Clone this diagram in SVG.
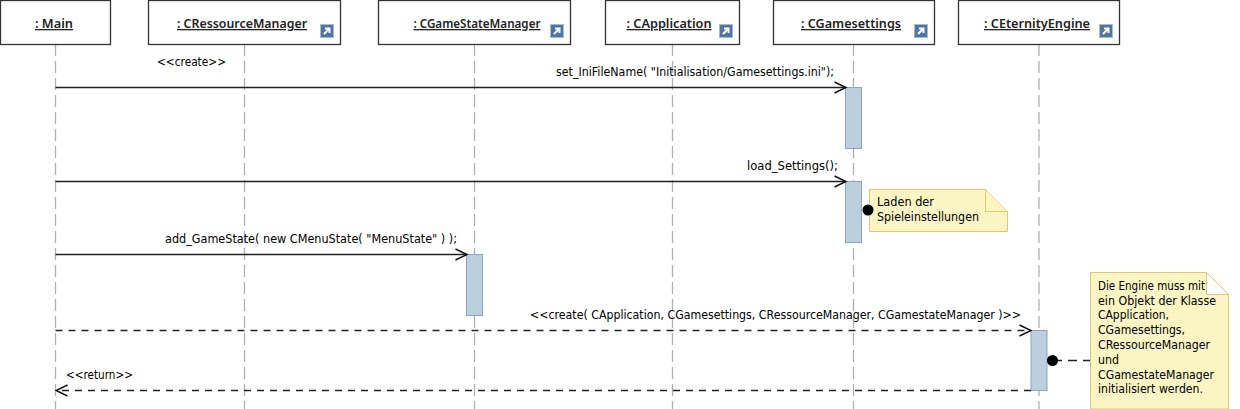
<svg xmlns="http://www.w3.org/2000/svg" width="1240" height="409" viewBox="0 0 1240 409">
<style>
text{font-family:"DejaVu Sans","Noto Sans",sans-serif;font-size:11.500px;fill:#000}
.obj{font-family:"Noto Sans",sans-serif;font-size:13px;font-weight:600;text-anchor:middle;text-decoration:underline;fill:#222}
.box{fill:#fff;stroke:#333;stroke-width:1.3}
.life{stroke:#b0b0b0;stroke-width:1.3;stroke-dasharray:12 5;fill:none}
.act{fill:#bccfdd;stroke:#8aa7c0;stroke-width:1}
.msg{stroke:#222;stroke-width:1.300;fill:none}
.dash{stroke-dasharray:7 6}
.note{fill:#fbf5c4;stroke:#dccb6e;stroke-width:1}
.ic{fill:#4d76a4;stroke:#a9bccf;stroke-width:1}
.ia{fill:none;stroke:#fff;stroke-width:2}
</style>
<defs>
<marker id="o" markerUnits="userSpaceOnUse" markerWidth="14" markerHeight="14" refX="12.5" refY="7" orient="auto"><path d="M1 1.500L12.500 7L1 12.500" fill="none" stroke="#111" stroke-width="1.4"/></marker>
<g id="lnk"><rect class="ic" x="0.500" y="0.500" width="13" height="13"/><path class="ia" d="M4 10L8.500 5.500M5 4.500H9.500V9"/></g>
</defs>
<g id="lifelines">
<path class="life" d="M55.500 44V409"/><path class="life" d="M244.500 44V409"/><path class="life" d="M474.500 44V409"/><path class="life" d="M672.500 44V409"/><path class="life" d="M853.500 44V409"/><path class="life" d="M1039 44V409"/>
</g>
<g id="n-main"><rect class="box" x="0.500" y="0.500" width="110" height="44"/><text class="obj" x="54" y="28" textLength="38" lengthAdjust="spacingAndGlyphs">: Main</text></g>
<g id="n-res"><rect class="box" x="148.500" y="0.500" width="192" height="44"/><text class="obj" x="242" y="28" textLength="130" lengthAdjust="spacingAndGlyphs">: CRessourceManager</text><use href="#lnk" x="320" y="24"/></g>
<g id="n-state"><rect class="box" x="378.500" y="0.500" width="192" height="44"/><text class="obj" x="477" y="28" textLength="127" lengthAdjust="spacingAndGlyphs">: CGameStateManager</text><use href="#lnk" x="550" y="24"/></g>
<g id="n-app"><rect class="box" x="605.500" y="0.500" width="134" height="44"/><text class="obj" x="669" y="28" textLength="85" lengthAdjust="spacingAndGlyphs">: CApplication</text><use href="#lnk" x="719" y="24"/></g>
<g id="n-set"><rect class="box" x="773.500" y="0.500" width="161" height="44"/><text class="obj" x="851" y="28" textLength="100" lengthAdjust="spacingAndGlyphs">: CGamesettings</text><use href="#lnk" x="914" y="24"/></g>
<g id="n-eng"><rect class="box" x="958.500" y="0.500" width="161" height="44"/><text class="obj" x="1037" y="28" textLength="106" lengthAdjust="spacingAndGlyphs">: CEternityEngine</text><use href="#lnk" x="1099" y="24"/></g>
<g id="activations">
<rect class="act" x="845.500" y="87.500" width="16" height="61"/><rect class="act" x="845.500" y="181.500" width="16" height="61"/><rect class="act" x="466.500" y="254.500" width="16" height="61"/><rect class="act" x="1031" y="330.500" width="16" height="60"/>
</g>
<g id="connectors">
<path class="msg" marker-end="url(#o)" d="M55.500 87.500H846"/>
<path class="msg" marker-end="url(#o)" d="M55.500 181.500H846"/>
<path class="msg" marker-end="url(#o)" d="M55.500 254.500H467"/>
<path class="msg dash" marker-end="url(#o)" d="M55.500 330.500H1031"/>
<path class="msg dash" marker-end="url(#o)" d="M1031 390.500H56"/>
<path class="msg" stroke-dasharray="9 6" d="M1053 360.500H1090"/>
</g>
<g id="labels">
<text x="157" y="66" textLength="69" lengthAdjust="spacingAndGlyphs">&lt;&lt;create&gt;&gt;</text>
<text x="556" y="76" textLength="278" lengthAdjust="spacingAndGlyphs">set_IniFileName( "Initialisation/Gamesettings.ini");</text>
<text x="747" y="170" textLength="91" lengthAdjust="spacingAndGlyphs">load_Settings();</text>
<text x="165" y="243" textLength="292" lengthAdjust="spacingAndGlyphs">add_GameState( new CMenuState( "MenuState" ) );</text>
<text x="530" y="319" textLength="491" lengthAdjust="spacingAndGlyphs">&lt;&lt;create( CApplication, CGamesettings, CRessourceManager, CGamestateManager )&gt;&gt;</text>
<text x="66" y="379" textLength="67" lengthAdjust="spacingAndGlyphs">&lt;&lt;return&gt;&gt;</text>
</g>
<g id="note1">
<path class="note" d="M869.500 189.500H985.500L1007.500 211.500V231.500H869.500Z"/><path class="note" d="M985.500 189.500V211.500H1007.500" fill="none"/>
<text x="877" y="206" textLength="57" lengthAdjust="spacingAndGlyphs">Laden der</text>
<text x="877" y="221" textLength="102" lengthAdjust="spacingAndGlyphs">Spieleinstellungen</text>
<circle cx="868" cy="210" r="5.500"/>
</g>
<g id="note2">
<path class="note" d="M1090.500 272.500H1206.500L1228.500 294.500V409H1090.500Z"/>
<path d="M1206.500 272.500L1228.500 294.500H1206.500Z" fill="#fff" stroke="#dccb6e"/>
<text x="1098" y="290" textLength="107" lengthAdjust="spacingAndGlyphs">Die Engine muss mit</text>
<text x="1098" y="305" textLength="118" lengthAdjust="spacingAndGlyphs">ein Objekt der Klasse</text>
<text x="1098" y="319" textLength="71" lengthAdjust="spacingAndGlyphs">CApplication,</text>
<text x="1098" y="334" textLength="87" lengthAdjust="spacingAndGlyphs">CGamesettings,</text>
<text x="1098" y="349" textLength="112" lengthAdjust="spacingAndGlyphs">CRessourceManager</text>
<text x="1098" y="364" textLength="21" lengthAdjust="spacingAndGlyphs">und</text>
<text x="1098" y="379" textLength="116" lengthAdjust="spacingAndGlyphs">CGamestateManager</text>
<text x="1098" y="393" textLength="105" lengthAdjust="spacingAndGlyphs">initialisiert werden.</text>
<circle cx="1052.500" cy="360.500" r="5.500"/>
</g>
</svg>
